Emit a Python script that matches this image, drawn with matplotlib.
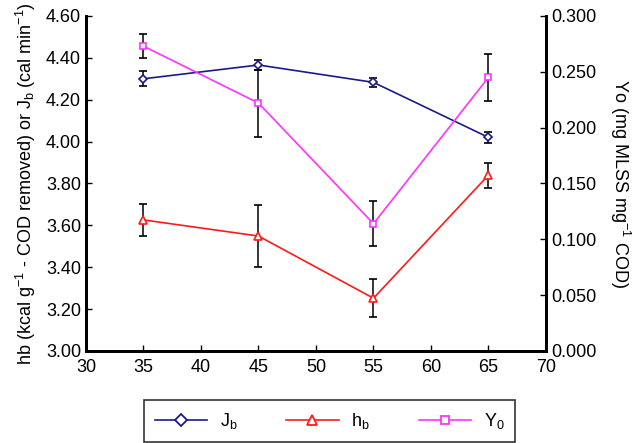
import numpy as np
from matplotlib import pyplot as plt
from matplotlib.lines import Line2D

plt.rcParams['font.family'] = ['Liberation Sans', 'DejaVu Sans']
plt.rcParams['mathtext.fontset'] = 'custom'
plt.rcParams['mathtext.rm'] = 'Liberation Sans'
plt.rcParams['mathtext.it'] = 'Liberation Sans'

temp = [35, 45, 55, 65]
jb = [4.30, 4.366, 4.283, 4.02]
jb_err = [0.035, 0.025, 0.023, 0.027]
hb = [3.626, 3.549, 3.252, 3.84]
hb_err = [0.077, 0.15, 0.09, 0.06]
y0 = [0.273, 0.222, 0.114, 0.245]
y0_err = [0.011, 0.03, 0.02, 0.021]

c_jb = '#1a1a8c'
c_hb = '#ff1a1a'
c_y0 = '#ff33ff'

fig = plt.figure(figsize=(6.35, 4.43), dpi=100)
ax = fig.add_axes([0.1354, 0.2077, 0.7244, 0.7562])
ax2 = ax.twinx()

fs = 13
err_kw = dict(ecolor='black', elinewidth=1.1, capsize=3, capthick=1.1)

ax.errorbar(temp, jb, yerr=jb_err, color=c_jb, lw=1.2, marker='D', ms=4.5,
            mfc='white', mew=1.2, **err_kw)
ax.errorbar(temp, hb, yerr=hb_err, color=c_hb, lw=1.2, marker='^', ms=5.5,
            mfc='white', mew=1.2, **err_kw)
ax2.errorbar(temp, y0, yerr=y0_err, color=c_y0, lw=1.2, marker='s', ms=4.5,
             mfc='white', mew=1.2, **err_kw)

ax.set_xlim(30, 70)
ax.set_ylim(3.0, 4.6)
ax2.set_ylim(0, 0.3)
ax.set_xticks(np.arange(30, 71, 5))
ax.set_yticks(np.arange(3.0, 4.61, 0.2))
ax.set_yticklabels(['{:.2f}'.format(v) for v in np.arange(3.0, 4.61, 0.2)])
ax2.set_yticks(np.arange(0, 0.301, 0.05))
ax2.set_yticklabels(['{:.3f}'.format(v) for v in np.arange(0, 0.301, 0.05)])

for a in (ax, ax2):
    a.spines['top'].set_visible(False)
    for s in ('left', 'right', 'bottom'):
        a.spines[s].set_linewidth(2)
    a.tick_params(direction='in', labelsize=fs, length=4, width=1)
ax.tick_params(axis='x', pad=6)

ax.set_ylabel('hb (kcal g$^{\\mathregular{-1}}$ - COD removed) or J$_b$ (cal min$^{\\mathregular{-1}}$)',
              fontsize=fs, labelpad=6)
ax2.set_ylabel('Yo (mg MLSS mg$^{\\mathregular{-1}}$ COD)', fontsize=fs, rotation=270, labelpad=26)

handles = [
    Line2D([], [], color=c_jb, lw=1.2, marker='D', ms=6, mfc='white', mew=1.3),
    Line2D([], [], color=c_hb, lw=1.2, marker='^', ms=7, mfc='white', mew=1.3),
    Line2D([], [], color=c_y0, lw=1.2, marker='s', ms=6, mfc='white', mew=1.3),
]
leg = fig.legend(handles=handles, labels=['J$_b$', 'h$_b$', 'Y$_0$'], ncol=3,
                 loc='upper center', bbox_to_anchor=(0.519, 0.097), fontsize=fs,
                 frameon=True, fancybox=False, edgecolor='black', handlelength=2.9,
                 handletextpad=0.7, columnspacing=2.7, borderpad=0.6, borderaxespad=0)
leg.get_frame().set_linewidth(1.2)

fig.savefig('out.png', dpi=100)
